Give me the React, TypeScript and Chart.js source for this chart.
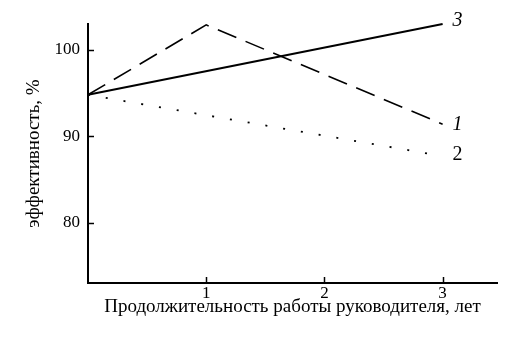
import React, { useEffect, useRef } from "react";
import { Chart, registerables } from "chart.js";

Chart.register(...registerables);

const years = [0, 1, 3];
const series1 = [94.8, 102.9, 91.4]; // dashed, label 1
const series2X = [0, 3];
const series2 = [94.8, 87.7]; // dotted, label 2
const series3X = [0, 3];
const series3 = [94.8, 103]; // solid, label 3
const seriesLabels = ["1", "2", "3"];
const xTicks = [1, 2, 3];
const yTicks = [80, 90, 100];
const yTitle = "эффективность, %";
const xTitle = "Продолжительность работы руководителя, лет";

const FONT = "'Liberation Serif', 'DejaVu Serif', serif";

const inwardTicks = {
  id: "inwardTicks",
  afterDraw(chart: any) {
    const { ctx, chartArea, scales } = chart;
    ctx.save();
    ctx.strokeStyle = "#000";
    ctx.lineWidth = 1.5;
    for (const v of yTicks) {
      const y = Math.round(scales.y.getPixelForValue(v)) + 0.5;
      ctx.beginPath();
      ctx.moveTo(chartArea.left, y);
      ctx.lineTo(chartArea.left + 6, y);
      ctx.stroke();
    }
    for (const v of xTicks) {
      const x = Math.round(scales.x.getPixelForValue(v)) + 0.5;
      ctx.beginPath();
      ctx.moveTo(x, chartArea.bottom);
      ctx.lineTo(x, chartArea.bottom - 6);
      ctx.stroke();
    }
    ctx.restore();
  },
};

const endLabels = {
  id: "endLabels",
  afterDatasetsDraw(chart: any) {
    const { ctx } = chart;
    ctx.save();
    ctx.fillStyle = "#000";
    ctx.textAlign = "left";
    ctx.textBaseline = "middle";
    chart.data.datasets.forEach((ds: any, i: number) => {
      const meta = chart.getDatasetMeta(i);
      const pt = meta.data[meta.data.length - 1];
      if (!pt) return;
      const italic = ds.labelText !== "2";
      ctx.font = `${italic ? "italic " : ""}20px ${FONT}`;
      ctx.fillText(ds.labelText, pt.x + 10, pt.y + (ds.labelDy || 0));
    });
    ctx.restore();
  },
};

export default function App() {
  const ref = useRef<HTMLCanvasElement | null>(null);
  useEffect(() => {
    if (!ref.current) return;
    const chart = new Chart(ref.current, {
      type: "line",
      data: {
        datasets: [
          {
            data: years.map((x, i) => ({ x, y: series1[i] })),
            borderColor: "#000",
            borderWidth: 1.6,
            borderDash: [20, 10],
            pointRadius: 0,
            fill: false,
            clip: false,
            labelText: seriesLabels[0],
            labelDy: 1,
          } as any,
          {
            data: series2X.map((x, i) => ({ x, y: series2[i] })),
            borderColor: "#000",
            borderWidth: 1.8,
            borderDash: [2, 16],
            pointRadius: 0,
            fill: false,
            clip: false,
            labelText: seriesLabels[1],
            labelDy: -1,
          } as any,
          {
            data: series3X.map((x, i) => ({ x, y: series3[i] })),
            borderColor: "#000",
            borderWidth: 2,
            pointRadius: 0,
            fill: false,
            clip: false,
            labelText: seriesLabels[2],
            labelDy: -3,
          } as any,
        ],
      },
      options: {
        responsive: false,
        animation: false,
        layout: { padding: { top: 24, right: 21, left: 0, bottom: 0 } },
        plugins: { legend: { display: false }, tooltip: { enabled: false } },
        scales: {
          x: {
            type: "linear",
            min: 0,
            max: 3.46,
            afterBuildTicks: (s: any) => {
              s.ticks = xTicks.map((v) => ({ value: v }));
            },
            afterFit: (s: any) => {
              s.height = 56;
            },
            grid: { display: true, drawOnChartArea: false, drawTicks: false },
            border: { display: true, color: "#000", width: 2 },
            ticks: {
              color: "#000",
              padding: 0,
              font: { family: FONT, size: 17 },
              callback: (v: any) => String(v),
            },
            title: {
              display: true,
              text: xTitle,
              color: "#000",
              font: { family: FONT, size: 19 },
              padding: { top: 0, bottom: 21 },
            },
          },
          y: {
            type: "linear",
            min: 73,
            max: 103,
            afterBuildTicks: (s: any) => {
              s.ticks = yTicks.map((v) => ({ value: v }));
            },
            afterFit: (s: any) => {
              s.width = 88;
            },
            grid: { display: true, drawOnChartArea: false, drawTicks: false },
            border: { display: true, color: "#000", width: 2 },
            ticks: {
              color: "#000",
              padding: 8,
              font: { family: FONT, size: 17 },
              callback: (v: any) => String(v),
            },
            title: {
              display: true,
              text: yTitle,
              color: "#000",
              font: { family: FONT, size: 19 },
              padding: { top: 23, bottom: 0 },
            },
          },
        },
      },
      plugins: [inwardTicks, endLabels],
    });
    return () => chart.destroy();
  }, []);
  return (
    <canvas
      ref={ref}
      width={518}
      height={339}
      style={{ position: "fixed", left: 0, top: 0, background: "#fff" }}
    />
  );
}
